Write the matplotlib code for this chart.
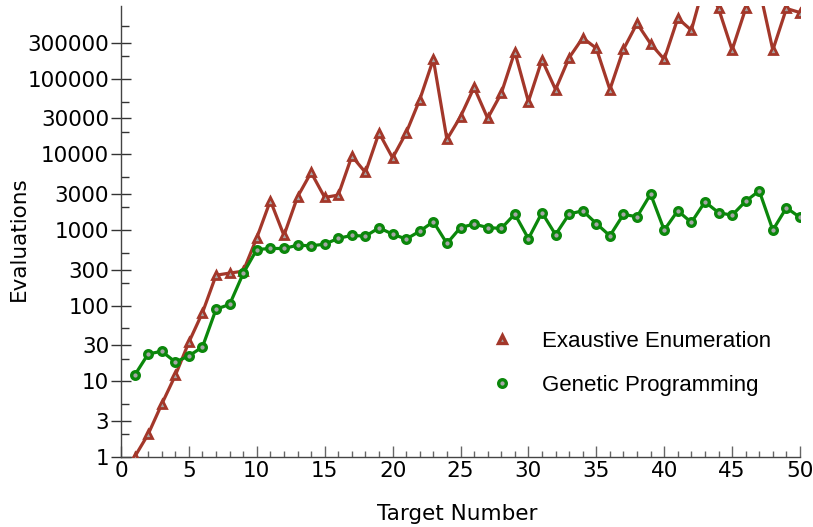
import matplotlib
matplotlib.use("Agg")
import matplotlib.pyplot as plt
from matplotlib.lines import Line2D
from matplotlib.ticker import FixedLocator, NullFormatter

target = list(range(1, 51))
exhaustive = [1, 2, 5, 12, 33, 81, 253, 270, 286, 790,
              2450, 850, 2750, 5770, 2700, 2900, 9500, 5770, 19300, 9000,
              19300, 53000, 181000, 15800, 31500, 77000, 30000, 64000, 228000, 50000,
              178000, 72000, 190000, 347000, 253000, 72000, 245000, 540000, 290000, 181000,
              630000, 438000, 1960000, 852000, 240000, 850000, 1580000, 240000, 850000, 750000]
genetic = [12, 23, 25, 18, 21.7, 28.5, 90, 104, 267, 553,
           571, 571, 630, 620, 650, 778, 850, 830, 1070, 883,
           760, 966, 1290, 665, 1080, 1200, 1080, 1050, 1630, 770,
           1700, 870, 1630, 1800, 1220, 840, 1610, 1500, 2990, 1000,
           1800, 1260, 2360, 1700, 1570, 2410, 3300, 1000, 1970, 1470]
ytick_vals = [1, 3, 10, 30, 100, 300, 1000, 3000, 10000, 30000, 100000, 300000]
ytick_labels = ["1", "3", "10", "30", "100", "300", "1000", "3000", "10000", "30000", "100000", "300000"]
yminor_vals = [m * 10 ** e for e in range(0, 6) for m in (2, 5)]
xtick_vals = [0, 5, 10, 15, 20, 25, 30, 35, 40, 45, 50]
series_names = ["Exaustive Enumeration", "Genetic Programming"]

RED = "#a3372a"
GREEN = "#0b870b"
GRAY = "#a6a6a6"

fig = plt.figure(figsize=(8.13, 5.27), dpi=100)
ax = fig.add_axes([121 / 813, 1 - 457 / 527, (800 - 121) / 813, (457 - 6) / 527])

ax.plot(target, exhaustive, color=RED, lw=2.3, marker="^", ms=5.2,
        mfc=GRAY, mec=RED, mew=2.0, zorder=3)
ax.plot(target, genetic, color=GREEN, lw=2.3, marker="o", ms=5.5,
        mfc=GRAY, mec=GREEN, mew=2.4, zorder=4)

ax.set_yscale("log")
ax.set_ylim(1, 10 ** 5.962)
ax.set_xlim(0, 50)

ax.yaxis.set_major_locator(FixedLocator(ytick_vals))
ax.set_yticklabels(ytick_labels)
ax.yaxis.set_minor_locator(FixedLocator(yminor_vals))
ax.yaxis.set_minor_formatter(NullFormatter())
ax.set_xticks(xtick_vals)
ax.xaxis.set_minor_locator(FixedLocator(list(range(0, 51))))

for s in ("top", "right"):
    ax.spines[s].set_visible(False)
for s in ("left", "bottom"):
    ax.spines[s].set_color("#444444")
    ax.spines[s].set_linewidth(1.0)

ax.tick_params(axis="y", which="major", direction="inout", length=15, width=1,
               color="#333333", labelsize=15.5, pad=1)
ax.tick_params(axis="y", which="minor", direction="in", length=6, width=1, color="#333333")
ax.tick_params(axis="x", which="major", direction="in", length=8, width=1,
               color="#666666", labelsize=15.5, pad=3)
ax.tick_params(axis="x", which="minor", direction="in", length=4, width=1, color="#666666")

ax.set_xlabel("Target Number", fontsize=15.5)
ax.xaxis.set_label_coords(0.495, -0.104)
ax.set_ylabel("Evaluations", fontsize=15.5)
ax.yaxis.set_label_coords(-0.135, 0.485)

handles = [
    Line2D([], [], ls="none", marker="^", ms=6, mfc=GRAY, mec=RED, mew=2.4),
    Line2D([], [], ls="none", marker="o", ms=5.5, mfc=GRAY, mec=GREEN, mew=2.4),
]
leg = ax.legend(handles, series_names, loc="center left", bbox_to_anchor=(0.515, 0.208),
                frameon=False, prop={"family": "Liberation Sans", "size": 16},
                handletextpad=1.3, labelspacing=1.05, handlelength=1.0, borderpad=0.4)

fig.savefig("out.png", dpi=100)
